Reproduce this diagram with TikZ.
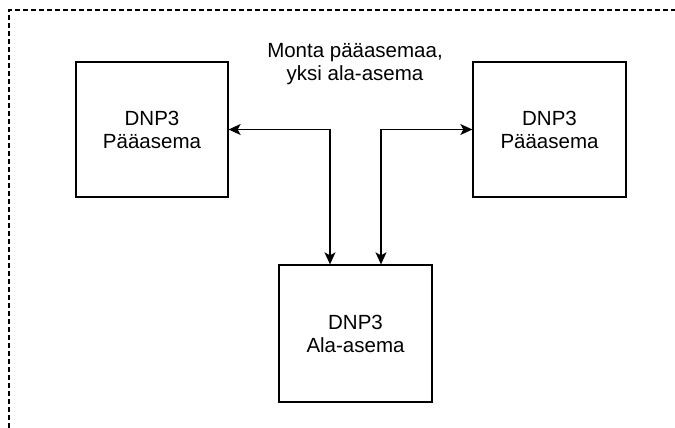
\documentclass[tikz,border=0pt]{standalone}
\usepackage{fontspec}
\setmainfont{Liberation Sans}
\usetikzlibrary{arrows.meta}

\begin{document}
\begin{tikzpicture}[x=1pt, y=-1pt,
    station/.style={shape=rectangle, draw=black, line width=1.3pt, align=center,
                    font=\fontsize{20.5}{23}\selectfont},
    link/.style={line width=1.3pt, {Stealth[length=12pt,width=11pt,inset=3pt]}-{Stealth[length=12pt,width=11pt,inset=3pt]}}]
    \useasboundingbox (0,0) rectangle (675,428);
    % katkoviivainen alue
    \draw[line width=1.3pt, dash pattern=on 5pt off 3pt] (9,428) -- (9,10) -- (675,10);

    \node[station, minimum width=152pt, minimum height=135pt](master1) at (152,129.5) {DNP3\\Pääasema};
    \node[station, minimum width=153pt, minimum height=135pt](master2) at (549.5,129.5) {DNP3\\Pääasema};
    \node[station, minimum width=153pt, minimum height=137pt](outstation) at (355.5,333.5) {DNP3\\Ala-asema};
    \node[align=center, font=\fontsize{20.5}{23}\selectfont](title) at (355,64) {Monta pääasemaa,\\yksi ala-asema};

    \draw[link] (master1.east) -| ([xshift=-25.5pt]outstation.north);
    \draw[link] (master2.west) -| ([xshift=25.5pt]outstation.north);
\end{tikzpicture}
\end{document}
